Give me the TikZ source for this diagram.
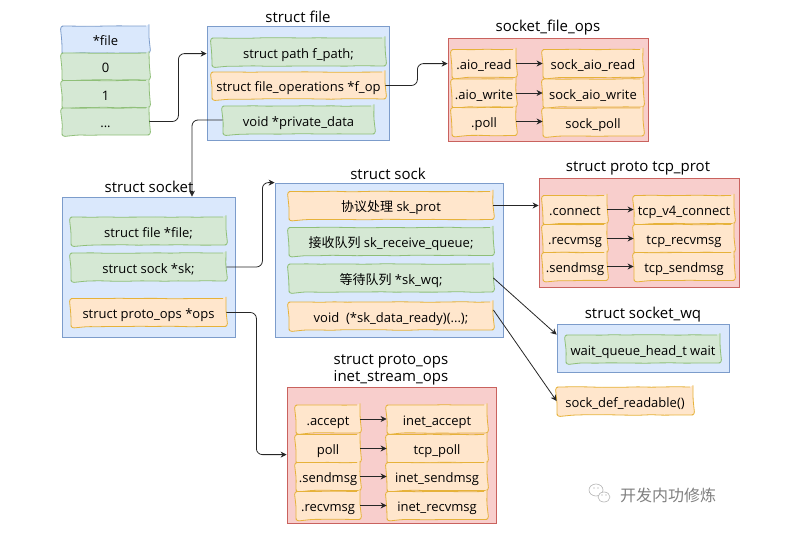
\documentclass[tikz,border=0pt]{standalone}
\usepackage{fontspec}
\setmainfont{Open Sans}
\newfontfamily\cjk{Noto Sans CJK SC}
\usetikzlibrary{arrows.meta,calc,decorations.pathmorphing}

\definecolor{blueback}{HTML}{DAE8FC}
\definecolor{blueline}{HTML}{7C9CCB}
\definecolor{greenback}{HTML}{D5E8D4}
\definecolor{greenline}{HTML}{8FBF78}
\definecolor{orangeback}{HTML}{FFE6CC}
\definecolor{orangeline}{HTML}{E6B23A}
\definecolor{redback}{HTML}{F8CECC}
\definecolor{redline}{HTML}{C9625E}

\begin{document}
\begin{tikzpicture}[
  x=1pt, y=-1pt,
  font=\fontsize{13}{15}\selectfont,
  >={Stealth[length=6pt,width=6pt]},
  sketch/.style={draw, line width=.8pt, rounded corners=3pt, inner sep=0pt, text height=12pt, text depth=0pt,
    decoration={random steps,segment length=13pt,amplitude=.3pt}, decorate},
  structbox/.style={draw=blueline, fill=blueback, line width=.8pt, inner sep=0pt},
  opsbox/.style={draw=redline, fill=redback, line width=.8pt, inner sep=0pt},
  field/.style={sketch, draw=greenline, fill=greenback, minimum height=28pt},
  hook/.style={sketch, draw=orangeline, fill=orangeback, minimum height=28pt},
  opkey/.style={hook, minimum width=64pt},
  opfn/.style={hook, minimum width=100pt},
  title/.style={font=\fontsize{15}{17}\selectfont, align=center, inner sep=0pt},
  link/.style={->, line width=.8pt, black!85, rounded corners=6pt}
]
\useasboundingbox (0,0) rectangle (785,538);
\pgfmathsetseed{7}

% fd table
\node[sketch, draw=blueline, fill=blueback, minimum width=87pt, minimum height=27pt] (fdhead) at (105.5,39.5) {*file};
\node[field, minimum width=87pt, minimum height=27pt] (fdzero) at (105.5,66.5) {0};
\node[field, minimum width=87pt, minimum height=27pt] (fdone) at (105.5,94) {1};
\node[field, minimum width=87pt, minimum height=27pt] (fdmore) at (105.5,121.5) {...};

% struct file
\node[title] (filetitle) at (298,17) {struct file};
\node[structbox, minimum width=182pt, minimum height=114pt] (filebox) at (298,83) {};
\node[field, minimum width=173pt] (fpath) at (298.5,52) {struct path f\_path;};
\node[hook, minimum width=173pt, minimum height=27pt] (fop) at (298.5,85.5) {struct file\_operations *f\_op};
\node[field, minimum width=151pt] (privdata) at (298.5,120) {void *private\_data};

% socket_file_ops
\node[title] (fopstitle) at (548,28) {socket\_file\_ops};
\node[opsbox, minimum width=200pt, minimum height=103pt] (fopsbox) at (548,89.5) {};
\node[opkey] (aioread) at (484,63.5) {.aio\_read};
\node[opkey] (aiowrite) at (484,93) {.aio\_write};
\node[opkey] (fpoll) at (484,121.5) {.poll};
\node[opfn] (sockread) at (593,63.5) {sock\_aio\_read};
\node[opfn] (sockwrite) at (593,93) {sock\_aio\_write};
\node[opfn] (sockpoll) at (593,122) {sock\_poll};

% struct socket
\node[title] (sockettitle) at (149,187) {struct socket};
\node[structbox, minimum width=173pt, minimum height=140pt] (socketbox) at (148.5,267) {};
\node[field, minimum width=155pt] (sfile) at (148.5,231) {struct file *file;};
\node[field, minimum width=155pt] (ssk) at (148.5,267) {struct sock *sk;};
\node[hook, minimum width=155pt] (sops) at (148.5,312.5) {struct proto\_ops *ops};

% struct sock
\node[title] (socktitle) at (388,174) {struct sock};
\node[structbox, minimum width=228pt, minimum height=154pt] (sockbox) at (389,260) {};
\node[hook, minimum width=204pt] (skprot) at (391,205.5) {{\cjk 协议处理} sk\_prot};
\node[field, minimum width=204pt] (skqueue) at (391,241.5) {{\cjk 接收队列} sk\_receive\_queue;};
\node[field, minimum width=204pt] (skwq) at (391,278) {{\cjk 等待队列} *sk\_wq;};
\node[hook, minimum width=204pt] (skready) at (391,316) {void~ (*sk\_data\_ready)(...);};

% struct proto tcp_prot
\node[title] (tcptitle) at (638,168) {struct proto tcp\_prot};
\node[opsbox, minimum width=200pt, minimum height=109pt] (tcpbox) at (639,232.5) {};
\node[opkey] (tconnect) at (575,209.5) {.connect};
\node[opkey] (trecv) at (575,238.5) {.recvmsg};
\node[opkey] (tsend) at (575,266.5) {.sendmsg};
\node[opfn] (tcpconnect) at (684,209.5) {tcp\_v4\_connect};
\node[opfn] (tcprecv) at (684,238.5) {tcp\_recvmsg};
\node[opfn] (tcpsend) at (684,266.5) {tcp\_sendmsg};

% struct socket_wq
\node[title] (wqtitle) at (643,315) {struct socket\_wq};
\node[structbox, minimum width=172pt, minimum height=48pt] (wqbox) at (643,348) {};
\node[field, minimum width=154pt] (wqhead) at (643,349) {wait\_queue\_head\_t wait};

\node[hook, minimum width=136pt] (readable) at (625,401) {sock\_def\_readable()};

% struct proto_ops
\node[title] (opstitle) at (391,369.5) {struct proto\_ops\\inet\_stream\_ops};
\node[opsbox, minimum width=209pt, minimum height=136pt] (opsbox) at (391.5,455) {};
\node[opkey] (oaccept) at (328,419) {.accept};
\node[opkey] (opoll) at (328,448.5) {poll};
\node[opkey] (osend) at (328,476.5) {.sendmsg};
\node[opkey] (orecv) at (328,505.5) {.recvmsg};
\node[opfn] (inetaccept) at (437,419) {inet\_accept};
\node[opfn] (tcppoll) at (437,448.5) {tcp\_poll};
\node[opfn] (inetsend) at (437,476.5) {inet\_sendmsg};
\node[opfn] (inetrecv) at (437,505.5) {inet\_recvmsg};

% function tables
\foreach \a/\b in {aioread/sockread,aiowrite/sockwrite,fpoll/sockpoll,
  tconnect/tcpconnect,trecv/tcprecv,tsend/tcpsend,
  oaccept/inetaccept,opoll/tcppoll,osend/inetsend,orecv/inetrecv} {
  \draw[link] (\a.east) -- (\a.east -| \b.west);
}

% links between structs
\coordinate (filein) at ($(filebox.north west)+(0,28)$);
\coordinate (opsin) at ($(opsbox.north west)+(0,68)$);
\coordinate (fopsin) at ($(fopsbox.north west)+(0,26)$);
\coordinate (wqin) at ($(wqbox.north west)+(0,11)$);
\draw[link] (fdmore.east) -- ++(29,0) |- (filein);
\draw[link] (fop.east) -- ++(32,0) |- (fopsin);
\draw[link] (privdata.west) -| (socketbox.north west -| 192,0);
\draw[link] (ssk.east) -- ++(36,0) |- (sockbox.north west);
\draw[link] (sops.east) -- ++(30,0) |- (opsin);
\draw[link] (skprot.east) -- (skprot.east -| tcpbox.west);
\draw[link] (skwq.east) -- (wqin);
\draw[link] ($(skready.east)+(0,-6)$) -- (readable.west);

% account mark
\node[font=\cjk\fontsize{16}{18}\selectfont, text=black!50, inner sep=0pt] (mark) at (668,495) {开发内功修炼};
\draw[black!30, line width=.6pt] (596,490) ellipse [x radius=7pt, y radius=6pt];
\draw[black!30, fill=white, line width=.6pt] (604,497) ellipse [x radius=6pt, y radius=5pt];
\foreach \x/\y in {594/488,598/488,602/495,606/495}
  \fill[black!40] (\x,\y) circle [radius=.7pt];
\end{tikzpicture}
\end{document}
